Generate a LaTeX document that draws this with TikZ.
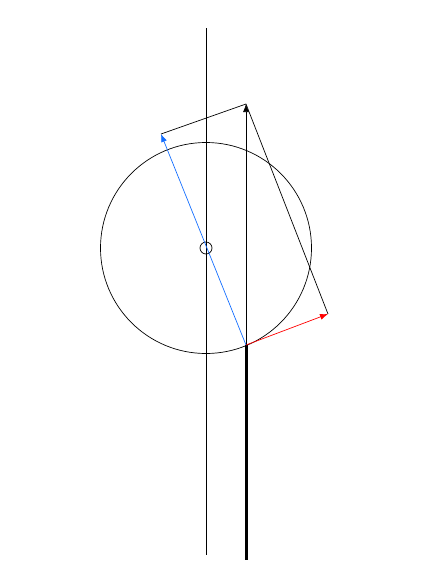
\documentclass[tikz,border=0pt]{standalone}
\usetikzlibrary{arrows.meta, positioning}
\definecolor{vec_blue}{RGB}{20,110,255}
\tikzset{vec/.style={-{Latex[length=8pt,width=6pt]}, line width=0.7pt}}

\begin{document}
\begin{tikzpicture}[x=1pt,y=-1pt,line join=round]
		\useasboundingbox (0,0) rectangle (424,574);
		\begin{scope}[line width=0.7pt]
		\coordinate (O) at (206,248);
		\coordinate (P) at (246,345);
		\coordinate (B) at (161,134);
		\coordinate (T) at (246,104);
		\coordinate (R) at (328,314);
		\coordinate (axtop) at (206,28);
		\coordinate (axbot) at (206,555);
		\coordinate (rodbot) at (246,560);
		\draw (axtop) -- (axbot);
		\draw (O) circle (105.5);
		\draw (O) circle (6);
		\draw[line width=3pt] (P) -- (rodbot);
		\draw[vec] (P) -- (T);
		\draw[vec,vec_blue] (P) -- (B);
		\draw[vec,red] (P) -- (R);
		\draw (B) -- (T) -- (R);
		\end{scope}
	\end{tikzpicture}
\end{document}
